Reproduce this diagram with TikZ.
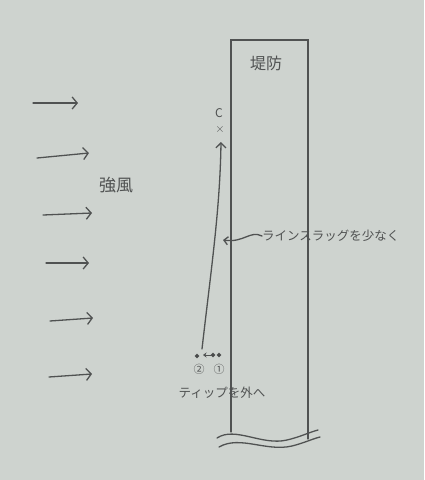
\documentclass[tikz,border=0pt]{standalone}
\usepackage{fontspec}
\newfontfamily\jafont{Noto Sans CJK JP}
\usetikzlibrary{arrows.meta}
\definecolor{paper}{RGB}{206,211,207}
\definecolor{pencil}{RGB}{80,82,82}

\begin{document}
\begin{tikzpicture}[x=1pt,y=-1pt,
    pencil/.style={draw=pencil,line width=1.3pt,line cap=round},
    wind/.style={pencil,-{Straight Barb[length=5pt,width=12pt]}},
    jtext/.style={text=pencil,inner sep=0pt,font=\jafont\fontsize{#1}{#1}\selectfont}]
    \fill [paper] (0,0) rectangle (424,480);
    \useasboundingbox (0,0) rectangle (424,480);
    % wind
    \foreach \xa/\ya/\xb/\yb in {33/103/78/103, 37/158/89/153, 43/215/92/213,
                                  46/263/89/263, 50/321/93/318, 49/377/92/374}
      \draw [wind] (\xa,\ya) -- (\xb,\yb);
    \node [jtext=17] (wind) at (116,185) {強風};
    % embankment
    \begin{scope}[pencil]
      \draw (231,432) -- (231,40) -- (308,40) -- (308,439);
      \draw (217,438) .. controls (235,426) and (262,446) .. (287,440)
            .. controls (300,437) and (310,432) .. (318,430);
      \draw (219,447) .. controls (240,435) and (266,452) .. (292,446)
            .. controls (304,443) and (312,439) .. (320,437);
    \end{scope}
    \node [jtext=16] (bank) at (266,63) {堤防};
    % target
    \node [jtext=12] (C) at (219,113) {C};
    \node [text=pencil,inner sep=0pt,font=\large] (X) at (220,129) {$\times$};
    \coordinate (tip) at (221,142);
    \coordinate (start) at (202,349);
    \draw [pencil,-{Straight Barb[length=5pt,width=10pt]}] (start)
      .. controls (211,270) and (220,210) .. (tip);
    % line slack
    \node [jtext=12.5,anchor=west] (slack) at (262,236) {ラインスラッグを少なく};
    \coordinate (slackpt) at (223,240);
    \draw [pencil,-{Straight Barb[length=4pt,width=8pt]}] (slack.west)
      .. controls (250,230) and (244,243) .. (slackpt);
    % tip
    \fill [pencil] (197,356) circle (1.5) (213,355) circle (1.5) (219,355) circle (1.5);
    \draw [pencil,line width=0.8pt,-{Stealth[length=3.5pt,width=5pt]}] (212,355) -- (203,355);
    \node [jtext=11] (two) at (199,369) {②};
    \node [jtext=11] (one) at (219,369) {①};
    \node [jtext=12.5] (tiptext) at (222,393) {ティップを外へ};
\end{tikzpicture}
\end{document}
